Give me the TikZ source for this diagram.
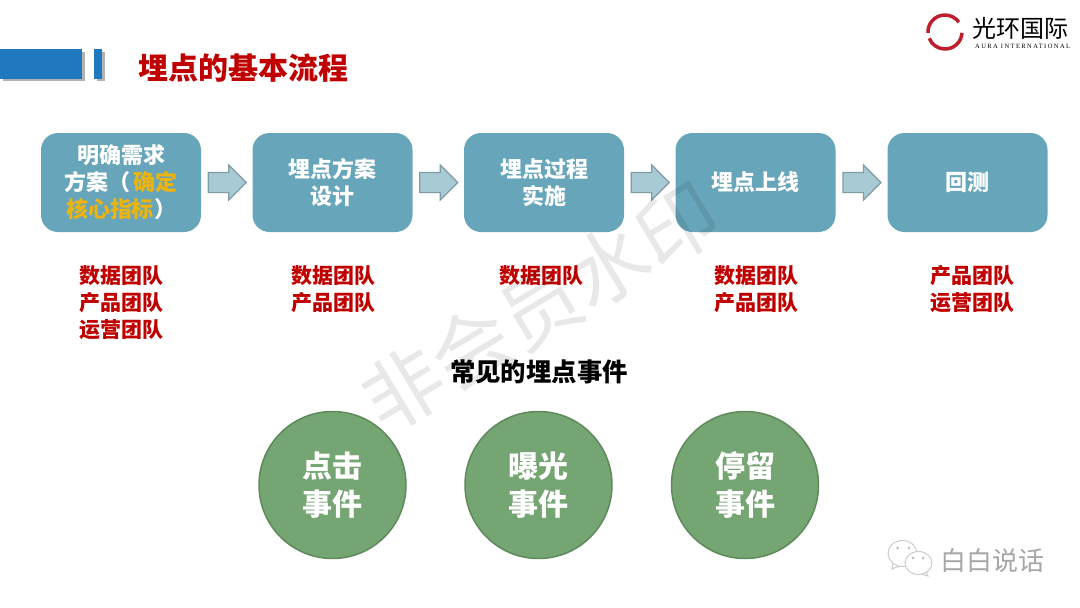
\documentclass[tikz,border=0pt]{standalone}
\usepackage{fontspec}
\usepackage{tikz}
\usetikzlibrary{calc,shapes.arrows,shadows}
\setmainfont{Noto Sans CJK SC}
\newfontfamily\logolatin[LetterSpace=22]{Liberation Serif}
\definecolor{boxblue}{HTML}{67A6BA}
\definecolor{arrowblue}{HTML}{A8CAD5}
\definecolor{arrowedge}{HTML}{7F9CA6}
\definecolor{barblue}{HTML}{2079BF}
\definecolor{titlered}{HTML}{C00000}
\definecolor{keyyellow}{HTML}{EDB40F}
\definecolor{eventgreen}{HTML}{75A572}
\definecolor{eventedge}{HTML}{5F8A5C}
\definecolor{logored}{HTML}{BE1E2D}
\tikzset{
  stepbox/.style={draw=none,fill=boxblue,rounded corners=17pt,minimum width=160pt,minimum height=99pt,
    inner sep=0pt,align=center,text=white,font=\fontsize{22}{27}\selectfont\bfseries},
  blockarrow/.style={single arrow,draw=arrowedge,line width=1.2pt,fill=arrowblue,minimum height=38pt,
    minimum width=34pt,single arrow head extend=7.5pt,single arrow head indent=0pt,inner xsep=0pt,inner ysep=9.5pt,
    xshift=-4.5pt},
  teamlabel/.style={anchor=north,inner sep=0pt,align=center,text=titlered,font=\fontsize{21}{27}\selectfont\bfseries},
  eventcircle/.style={circle,draw=eventedge,line width=1.5pt,fill=eventgreen,minimum size=147pt,inner sep=0pt,
    align=center,text=white,font=\fontsize{30}{38}\selectfont\bfseries},
  barrect/.style={fill=barblue,drop shadow={shadow xshift=2.5pt,shadow yshift=-2.5pt,fill=black,opacity=0.3}},
  bubble/.style={draw=black!20,line width=1pt,fill=white},
}
\begin{document}
\begin{tikzpicture}[x=1pt,y=-1pt]
  \useasboundingbox[fill=white] (0,0) rectangle (1080,608);

  \fill[barrect] (0,49) rectangle (82,78.5);
  \fill[barrect] (94,49) rectangle (102,78.5);
  \node[anchor=west,inner sep=0pt,text=titlered,font=\fontsize{30}{30}\selectfont\bfseries] (title) at (138,68) {埋点的基本流程};

  \draw[logored,line width=3.5pt] (928,32.9) arc (-183:-35:17);
  \draw[logored,line width=3.5pt] (962,32.9) arc (3:158:17);
  \node[anchor=west,inner sep=0pt,font=\fontsize{24}{24}\selectfont] (logoname) at (972,28) {光环国际};
  \node[anchor=west,inner sep=0pt,font=\logolatin\fontsize{6.5}{6.5}\selectfont] (logolatin) at (975,46) {AURA INTERNATIONAL};

  \node[stepbox] (need) at (121,182.5) {明确需求\\方案（\hspace{2.5pt}\textcolor{keyyellow}{确定}\\\textcolor{keyyellow}{核心指标}）};
  \node[stepbox] (design) at (332.5,182.5) {埋点方案\\设计};
  \node[stepbox] (process) at (544,182.5) {埋点过程\\实施};
  \node[stepbox] (online) at (755.5,182.5) {埋点上线};
  \node[stepbox] (backtest) at (967.5,182.5) {回测};

  \path (need) -- node[blockarrow] (arrowa) {} (design);
  \path (design) -- node[blockarrow] (arrowb) {} (process);
  \path (process) -- node[blockarrow] (arrowc) {} (online);
  \path (online) -- node[blockarrow] (arrowd) {} (backtest);

  \node[teamlabel] (teama) at (121.5,265.5) {数据团队\\产品团队\\运营团队};
  \node[teamlabel] (teamb) at (333,265.5) {数据团队\\产品团队};
  \node[teamlabel] (teamc) at (541,265.5) {数据团队};
  \node[teamlabel] (teamd) at (756,265.5) {数据团队\\产品团队};
  \node[teamlabel] (teame) at (972,265.5) {产品团队\\运营团队};

  \node[eventcircle] (click) at (332.5,485) {\raisebox{-1pt}{点击}\\\raisebox{-1pt}{事件}};
  \node[eventcircle] (expose) at (538.5,485) {\raisebox{-1pt}{曝光}\\\raisebox{-1pt}{事件}};
  \node[eventcircle] (stay) at (745,485) {\raisebox{-1pt}{停留}\\\raisebox{-1pt}{事件}};

  \node[rotate=31,text=black,text opacity=0.09,font=\fontsize{80}{80}\selectfont] (watermark) at (540,307) {非会员水印};
  \node[inner sep=0pt,font=\fontsize{25.4}{25.4}\selectfont\bfseries] (eventtitle) at (539,372) {常见的埋点事件};

  \draw[bubble] (893,564) -- (892,569) -- (900,566);
  \draw[bubble] (902.5,553.5) ellipse (14.5 and 13);
  \fill[black!25] (897.5,548) circle (1.5) (909,548) circle (1.5);
  \draw[bubble] (926,571) -- (928,576) -- (919,573.5);
  \draw[bubble] (918.5,563) ellipse (13.5 and 11.5);
  \fill[black!25] (913,558) circle (1.5) (923,558) circle (1.5);
  \node[anchor=west,inner sep=0pt,text=black!35,font=\fontsize{26}{26}\selectfont] (account) at (940,561) {白白说话};
\end{tikzpicture}
\end{document}
